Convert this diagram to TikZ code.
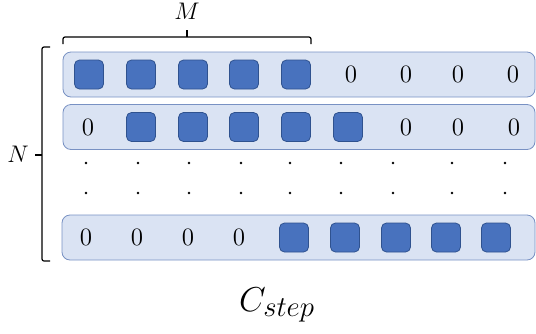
\documentclass[tikz,border=0pt]{standalone}

\definecolor{cellblue}{RGB}{72,114,190}
\definecolor{celledge}{RGB}{47,82,143}
\definecolor{rowfill}{RGB}{218,227,243}
\definecolor{rowedge}{RGB}{120,145,195}

\tikzset{
  rowbox/.style = {draw = rowedge, fill = rowfill, rounded corners = 4pt,
    minimum height = 22.5pt, inner sep = 0pt},
  cell/.style = {draw = celledge, fill = cellblue, rounded corners = 2.5pt,
    minimum width = 14.5pt, minimum height = 14.5pt, inner sep = 0pt},
  zero/.style = {inner sep = 0pt, font = \fontsize{12.5}{15}\selectfont},
  vdot/.style = {circle, fill = black, inner sep = 0pt, minimum size = 1.3pt},
  bracelbl/.style = {inner sep = 0pt, font = \fontsize{12}{14}\selectfont},
  bracket/.style = {line width = 0.6pt, rounded corners = 1pt}
}

\begin{document}
\begin{tikzpicture}[x = 0.5pt, y = -0.5pt]
      \useasboundingbox (0,0) rectangle (536,333);

      \node[rowbox, minimum width = 236pt] (row1) at (299,74.5) {};
      \node[rowbox, minimum width = 236pt] (row2) at (299,127) {};
      \node[rowbox, minimum width = 236.5pt] (row3) at (298.5,237.5) {};

      \foreach \x [count = \i] in {89,141,193,244,296}
        \node[cell] (a\i) at (\x,74.5) {};
      \foreach \x [count = \i] in {351,406,458,513}
        \node[zero] (az\i) at (\x,74.5) {0};

      \node[zero] (bz0) at (88,127) {0};
      \foreach \x [count = \i] in {141,193,244,296,348}
        \node[cell] (b\i) at (\x,127) {};
      \foreach \x [count = \i] in {406,458,514}
        \node[zero] (bz\i) at (\x,127) {0};

      \foreach \x [count = \i] in {86,138,189,241,290,341,393,452,505}{
        \node[vdot] (p\i) at (\x,163) {};
        \node[vdot] (q\i) at (\x,193) {};
      }

      \foreach \x [count = \i] in {86,137,188,239}
        \node[zero] (cz\i) at (\x,237.5) {0};
      \foreach \x [count = \i] in {294,345,396,446,496}
        \node[cell] (c\i) at (\x,237.5) {};

      % braces
      \coordinate (mtip) at (187,30);
      \coordinate (ntip) at (35,155);
      \draw [bracket] (63,44) -- (63,37) -- (311,37) -- (311,44);
      \draw [bracket] (mtip) -- (187,37);
      \draw [bracket] (50,47) -- (42,47) -- (42,261) -- (50,261);
      \draw [bracket] (ntip) -- (42,155);

      \node[bracelbl] (mlbl) at (187,11) {$M$};
      \node[bracelbl] (nlbl) at (18,154) {$N$};
      \node[inner sep = 0pt, font = \fontsize{19}{22}\selectfont] (title)
              at (277,305) {$C_{step}$};
    \end{tikzpicture}
\end{document}
